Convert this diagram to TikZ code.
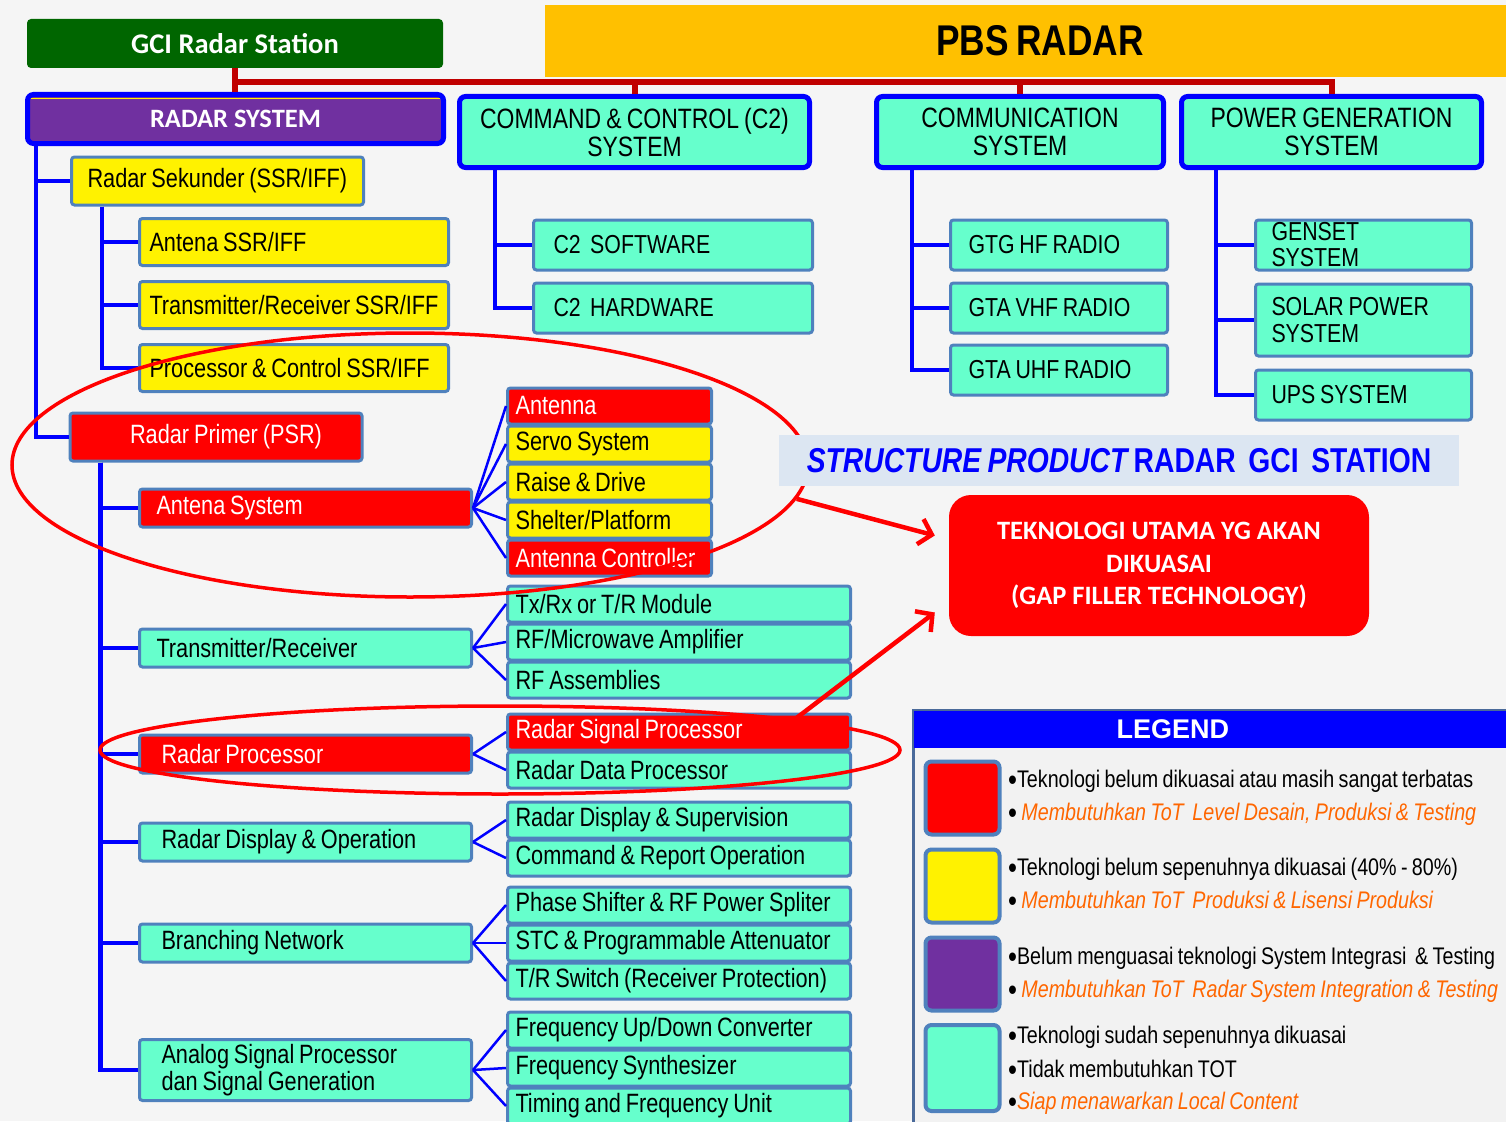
\documentclass[tikz,border=0pt]{standalone}
\usepackage{fontspec}
\setmainfont{Liberation Sans}[FakeStretch=0.82, WordSpace=0.8]
\newfontfamily\wide{Liberation Sans}
\newfontfamily\carl{Carlito}
\usetikzlibrary{arrows.meta,shapes.geometric}
\definecolor{bgc}{HTML}{F5F5F5}
\definecolor{aqua}{HTML}{66FFCC}
\definecolor{edge}{HTML}{4F81BD}
\definecolor{treeblue}{HTML}{0000FF}
\definecolor{purp}{HTML}{7030A0}
\definecolor{gcig}{HTML}{006600}
\definecolor{pbs}{HTML}{FFC000}
\definecolor{busred}{HTML}{C00000}
\definecolor{tot}{HTML}{FF6600}
\definecolor{band}{HTML}{DCE6F2}
\definecolor{legbody}{HTML}{F2F2F2}
\definecolor{legedge}{HTML}{4A6A9A}
\newcommand\fsz[2]{\fontsize{#1pt}{#2pt}\selectfont}
\newcommand\bul{\raisebox{-3pt}{\fontsize{31pt}{24pt}\selectfont •}}

\begin{document}
\begin{tikzpicture}[%
x=1pt, y=-1pt,
box/.style={draw=edge, line width=3pt, rounded corners=3pt, inner ysep=0pt, font=\fsz{26.5}{27}},
lbox/.style={box, anchor=west, execute at begin node={\hbox to #1\bgroup}, execute at end node={\hss\egroup}},
mlbox/.style={box, anchor=west, align=flush left, text width=#1},
sub/.style={lbox=327pt, inner xsep=8pt, minimum height=36pt},
asub/.style={lbox=188pt, inner xsep=8pt, minimum height=36pt},
mid/.style={lbox=298pt, inner xsep=17pt, minimum height=38pt},
ssr/.style={lbox=289pt, inner xsep=10pt, minimum height=47pt},
lvone/.style={lbox=260pt, inner xsep=16pt, minimum height=48pt},
csub/.style={lbox=239pt, inner xsep=20pt, minimum height=50pt, font=\fsz{26}{27}},
msub/.style={lbox=181pt, inner xsep=18pt, minimum height=50pt, font=\fsz{26}{27}},
psub/.style={lbox=184pt, inner xsep=16pt, minimum height=50pt, font=\fsz{26}{26}},
head/.style={draw=treeblue, line width=5pt, rounded corners=6pt, fill=aqua, align=center, font=\fsz{28}{28}, minimum height=71pt, inner sep=0pt},
trunk/.style={draw=treeblue, line width=4.5pt},
fan/.style={draw=treeblue, line width=2.5pt},
bus/.style={draw=busred, line width=6pt},
ring/.style={ellipse, draw=red, line width=3.5pt, inner sep=0pt},
hot/.style={draw=red, line width=4.5pt, -{Straight Barb[length=12pt,width=26pt]}},
leg/.style={anchor=west, inner sep=0pt, font=\fsz{24}{24}},
swatch/.style={draw=edge, line width=4pt, rounded corners=6pt, minimum width=74pt, minimum height=73pt},
]
\useasboundingbox (0,0) rectangle (1506,1121);
\fill[bgc] (0,0) rectangle (1506,1121);
%% top row;
\node[fill=gcig, rounded corners=4pt, minimum width=416pt, minimum height=49pt, text=white, font=\carl\bfseries\fsz{28.5}{28}] (gci) at (235,43.5) {GCI Radar Station};
\node[fill=pbs, minimum width=990pt, minimum height=72pt, font=\bfseries\fsz{43}{43}] (pbs) at (1040,41) {PBS RADAR};
%% system heads;
\node[head, fill=purp, text=white, font=\carl\bfseries\fsz{26.5}{26}, minimum width=416pt, minimum height=49pt,
  path picture={\draw[yellow, line width=1.5pt] ([yshift=-4pt]path picture bounding box.north west) -- ([yshift=-4pt]path picture bounding box.north east);}] (rs) at (235.5,119) {RADAR SYSTEM};
\node[head, minimum width=350pt] (c2) at (634.5,132) {COMMAND \& CONTROL (C2)\\SYSTEM};
\node[head, minimum width=287pt] (comm) at (1020,132) {COMMUNICATION\\SYSTEM};
\node[head, minimum width=300pt] (pg) at (1331.5,132) {POWER GENERATION\\SYSTEM};
%% bus;
\draw[bus] (gci.south) |- (pg.north |- 0,82) -- (pg.north);
\draw[bus] (gci.south |- 0,82) -- (gci.south |- rs.north);
\draw[bus] (c2.north |- 0,82) -- (c2.north);
\draw[bus] (comm.north |- 0,82) -- (comm.north);
%% radar system;
\node[lvone, fill=yellow] (sek) at (70,181) {Radar Sekunder (SSR/IFF)};
\node[ssr, fill=yellow] (antssr) at (138,242) {Antena SSR/IFF};
\node[ssr, fill=yellow] (trssr) at (138,305) {Transmitter/Receiver SSR/IFF};
\node[ssr, fill=yellow] (pcssr) at (138,368) {Processor \& Control SSR/IFF};
\node[box, fill=red, text=white, minimum width=292pt, minimum height=48pt] (psr) at (216,437) {\hspace*{20pt}Radar Primer (PSR)};
\draw[trunk] ([xshift=11pt]rs.south west) |- (sek.west);
\draw[trunk] ([xshift=11pt]rs.south west) |- (psr.west);
\draw[trunk] ([xshift=32pt]sek.south west) |- (antssr.west);
\draw[trunk] ([xshift=32pt]sek.south west) |- (trssr.west);
\draw[trunk] ([xshift=32pt]sek.south west) |- (pcssr.west);
%% primary radar groups;
\node[mid, fill=red, text=white] (antsys) at (138,508) {Antena System};
\node[mid, fill=aqua] (txrx) at (138,648) {Transmitter/Receiver};
\node[mid, fill=red, text=white] (rproc) at (138,754) {\hspace*{5pt}Radar Processor};
\node[mid, fill=aqua] (rdisp) at (138,842) {\hspace*{5pt}Radar Display \& Operation};
\node[mid, fill=aqua] (branch) at (138,943) {\hspace*{5pt}Branching Network};
\node[mlbox=298pt, inner xsep=17pt, fill=aqua, minimum height=61pt] (analog) at (138,1070) {\hspace*{5pt}Analog Signal Processor\\\hspace*{5pt}dan Signal Generation};
\draw[trunk] ([xshift=32pt]psr.south west) |- (antsys.west);
\draw[trunk] ([xshift=32pt]psr.south west) |- (txrx.west);
\draw[trunk] ([xshift=32pt]psr.south west) |- (rproc.west);
\draw[trunk] ([xshift=32pt]psr.south west) |- (rdisp.west);
\draw[trunk] ([xshift=32pt]psr.south west) |- (branch.west);
\draw[trunk] ([xshift=32pt]psr.south west) |- (analog.west);
%% antenna parts;
\node[asub, fill=red, text=white] (a1) at (506,406) {Antenna};
\node[asub, fill=yellow] (a2) at (506,444) {Servo System};
\node[asub, fill=yellow] (a3) at (506,482) {Raise \& Drive};
\node[asub, fill=yellow] (a4) at (506,520) {Shelter/Platform};
\node[asub, fill=red, text=white] (a5) at (506,558) {Antenna Controller};
\foreach \k in {a1,a2,a3,a4,a5} \draw[fan] (antsys.east) -- (\k.west);
%% transmitter parts;
\node[sub, fill=aqua] (t1) at (506,604) {Tx/Rx or T/R Module};
\node[sub, fill=aqua] (t2) at (506,642) {RF/Microwave Amplifier};
\node[sub, fill=aqua] (t3) at (506,680) {RF Assemblies};
\foreach \k in {t1,t2,t3} \draw[fan] (txrx.east) -- (\k.west);
%% processor parts;
\node[sub, fill=red, text=white] (p1) at (506,732) {Radar Signal Processor};
\node[sub, fill=aqua] (p2) at (506,770) {Radar Data Processor};
\foreach \k in {p1,p2} \draw[fan] (rproc.east) -- (\k.west);
%% display parts;
\node[sub, fill=aqua] (d1) at (506,820) {Radar Display \& Supervision};
\node[sub, fill=aqua] (d2) at (506,858) {Command \& Report Operation};
\foreach \k in {d1,d2} \draw[fan] (rdisp.east) -- (\k.west);
%% branching parts;
\node[sub, fill=aqua] (b1) at (506,905) {Phase Shifter \& RF Power Spliter};
\node[sub, fill=aqua] (b2) at (506,943) {STC \& Programmable Attenuator};
\node[sub, fill=aqua] (b3) at (506,981) {T/R Switch (Receiver Protection)};
\foreach \k in {b1,b2,b3} \draw[fan] (branch.east) -- (\k.west);
%% analog parts;
\node[sub, fill=aqua] (f1) at (506,1030) {Frequency Up/Down Converter};
\node[sub, fill=aqua] (f2) at (506,1068) {Frequency Synthesizer};
\node[sub, fill=aqua] (f3) at (506,1106) {Timing and Frequency Unit};
\foreach \k in {f1,f2,f3} \draw[fan] (analog.east) -- (\k.west);
%% c2, communication, power;
\node[csub, fill=aqua] (csw) at (532,245) {C2\ \ SOFTWARE};
\node[csub, fill=aqua] (chw) at (532,308) {C2\ \ HARDWARE};
\node[msub, fill=aqua] (hf) at (949,245) {GTG HF RADIO};
\node[msub, fill=aqua] (vhf) at (949,308) {GTA VHF RADIO};
\node[msub, fill=aqua] (uhf) at (949,370) {GTA UHF RADIO};
\node[mlbox=184pt, inner xsep=16pt, font=\fsz{26}{26}, fill=aqua, minimum height=50pt] (gen) at (1254,245) {GENSET\\SYSTEM};
\node[mlbox=184pt, inner xsep=16pt, font=\fsz{26}{27}, fill=aqua, minimum height=72pt] (solar) at (1254,320) {SOLAR POWER\\SYSTEM};
\node[psub, fill=aqua] (ups) at (1254,395) {UPS SYSTEM};
\draw[trunk] ([xshift=38pt]c2.south west) |- (csw.west);
\draw[trunk] ([xshift=38pt]c2.south west) |- (chw.west);
\draw[trunk] ([xshift=38pt]comm.south west) |- (hf.west);
\draw[trunk] ([xshift=38pt]comm.south west) |- (vhf.west);
\draw[trunk] ([xshift=38pt]comm.south west) |- (uhf.west);
\draw[trunk] ([xshift=37pt]pg.south west) |- (gen.west);
\draw[trunk] ([xshift=37pt]pg.south west) |- (solar.west);
\draw[trunk] ([xshift=37pt]pg.south west) |- (ups.west);
%% rings;
\node[ring, minimum width=796pt, minimum height=264pt] (ring1) at (410,465) {};
\node[ring, minimum width=800pt, minimum height=88pt] (ring2) at (500,750) {};
%% title and key technology;
\node[fill=band, minimum width=680pt, minimum height=51pt, text=treeblue, font=\bfseries\fsz{34.5}{34}] (title) at (1119,460.5) {{\itshape STRUCTURE PRODUCT} RADAR\ \ GCI\ \ STATION};
\node[fill=red, rounded corners=22pt, minimum width=420pt, minimum height=141pt, text=white, align=center, font=\carl\bfseries\fsz{26.5}{32.5}] (tek) at (1159,565.5) {TEKNOLOGI UTAMA YG AKAN\\DIKUASAI\\(GAP FILLER TECHNOLOGY)};
\draw[hot] (ring1.-5) -- ([xshift=-14pt,yshift=30pt]tek.west);
\draw[hot] (ring2.6) -- ([xshift=-14pt,yshift=-47pt]tek.west);
%% legend;
\node[draw=legedge, line width=3pt, fill=legbody, anchor=north west, minimum width=620pt, minimum height=420pt, inner sep=0pt] (legend) at (912,709) {};
\node[fill=treeblue, anchor=north west, minimum width=610pt, minimum height=37pt, text width=590pt, inner xsep=10pt, inner ysep=0pt, align=left, text=white, font=\wide\bfseries\fsz{27}{27}] (leghead) at (913.5,710.5) {\hspace*{193pt}LEGEND};
\node[swatch, fill=red] (sw1) at (962.5,798) {};
\node[swatch, fill=yellow] (sw2) at (962.5,886) {};
\node[swatch, fill=purp] (sw3) at (962.5,974) {};
\node[swatch, fill=aqua, minimum height=86pt] (sw4) at (962.5,1068) {};
\node[leg] (l1) at (1008,781) {\bul Teknologi belum dikuasai atau masih sangat terbatas};
\node[leg] (l2) at (1008,814) {\bul\ {\color{tot}\itshape Membutuhkan ToT\ \ Level Desain, Produksi \& Testing}};
\node[leg] (l3) at (1008,869) {\bul Teknologi belum sepenuhnya dikuasai (40\% - 80\%)};
\node[leg] (l4) at (1008,901) {\bul\ {\color{tot}\itshape Membutuhkan ToT\ \ Produksi \& Lisensi Produksi}};
\node[leg] (l5) at (1008,958) {\bul Belum menguasai teknologi System Integrasi\ \ \& Testing};
\node[leg] (l6) at (1008,991) {\bul\ {\color{tot}\itshape Membutuhkan ToT\ \ Radar System Integration \& Testing}};
\node[leg] (l7) at (1008,1037) {\bul Teknologi sudah sepenuhnya dikuasai};
\node[leg] (l8) at (1008,1070) {\bul Tidak membutuhkan TOT};
\node[leg] (l9) at (1008,1103) {\bul{\color{tot}\itshape Siap menawarkan Local Content}};
\end{tikzpicture}
\end{document}
